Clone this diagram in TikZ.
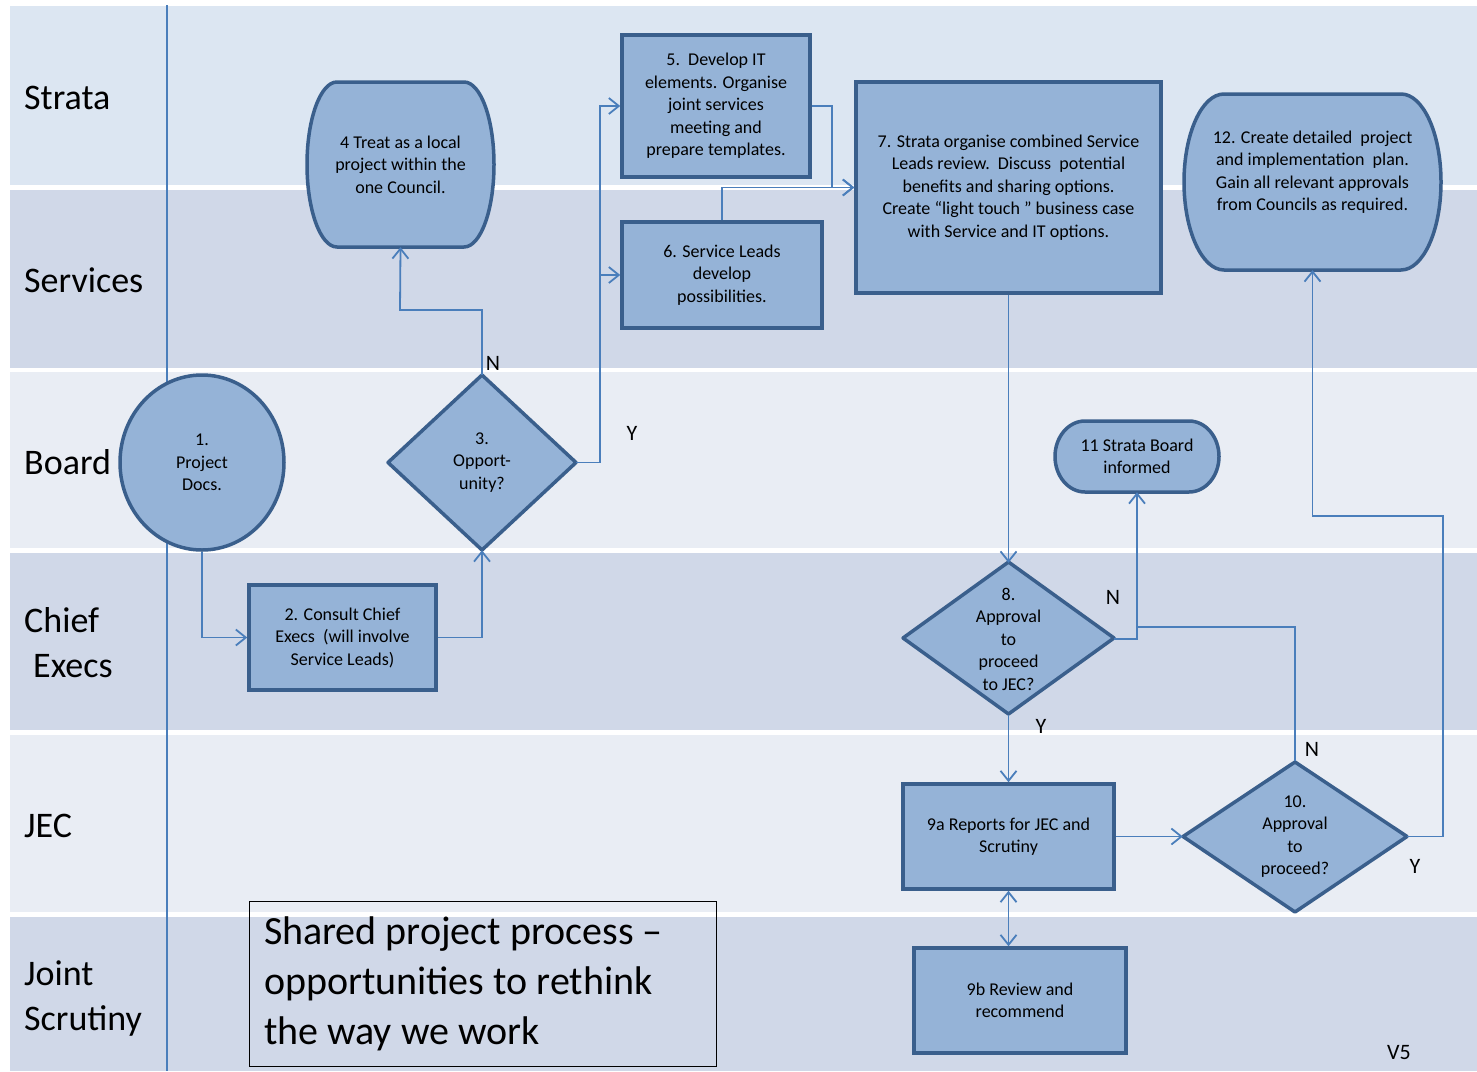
\documentclass[tikz,border=0pt]{standalone}
\usepackage{fontspec}
\setmainfont{Carlito}
\usetikzlibrary{arrows.meta,shapes.geometric}
\definecolor{laneA}{HTML}{DCE6F2}
\definecolor{laneB}{HTML}{D0D8E8}
\definecolor{laneC}{HTML}{E9EDF4}
\definecolor{boxfill}{HTML}{95B3D7}
\definecolor{boxline}{HTML}{3A5F8C}
\definecolor{conncol}{HTML}{4A7EBB}
\newcommand\myNodeFont{\fontsize{18}{22.5}\selectfont}
\newcommand\myLaneFont{\fontsize{36}{45}\selectfont}
\newcommand\myYNFont{\fontsize{22}{26}\selectfont}
\newcommand\myTitleFont{\fontsize{40}{50}\selectfont}
\begin{document}
\begin{tikzpicture}[x=1pt,y=-1pt,
  box/.style={draw=boxline, fill=boxfill, line width=3.5pt, align=center, inner sep=0pt, font=\myNodeFont},
  shapetxt/.style={align=center, inner sep=0pt, font=\myNodeFont},
  shapeline/.style={draw=boxline, fill=boxfill, line width=3.5pt, line join=round},
  conn/.style={draw=conncol, line width=1.8pt, -{Straight Barb[length=10pt,width=16pt,line width=1.8pt]}},
  plainconn/.style={draw=conncol, line width=1.8pt},
  lanelabel/.style={anchor=west, align=left, font=\myLaneFont, inner sep=0pt},
  yn/.style={font=\myYNFont, inner sep=0pt}]
\useasboundingbox (0,0) rectangle (1477,1071);
\fill[white] (0,0) rectangle (1477,1071);
% lanes
\fill[laneA] (10,6) rectangle (1477,185);
\fill[laneB] (10,190) rectangle (1477,368);
\fill[laneC] (10,372) rectangle (1477,548);
\fill[laneB] (10,553) rectangle (1477,730);
\fill[laneC] (10,735) rectangle (1477,912);
\fill[laneB] (10,917) rectangle (1477,1071);
\draw[conncol, line width=1.5pt] (167,5) -- (167,1071);
% lane labels
\node[lanelabel] (lStrata) at (24,98) {Strata};
\node[lanelabel] (lServices) at (24,280) {Services};
\node[lanelabel] (lBoard) at (24,462) {Board};
\node[lanelabel] (lChief) at (24,643) {Chief\\\hspace{9pt}Execs};
\node[lanelabel] (lJEC) at (24,826) {JEC};
\node[lanelabel] (lJoint) at (24,999) {Joint\\Scrutiny};
% title
\node[draw=black, line width=1pt, align=flush left, text width=437pt, inner xsep=15pt, inner ysep=0pt, minimum height=165pt, font=\myTitleFont] (title) at (482.5,983.5) {\raisebox{-4pt}{Shared project process –}\\\raisebox{-4pt}{opportunities to rethink}\\\raisebox{-4pt}{the way we work}};
\node[yn] (ver) at (1399,1053) {V5};
% shapes drawn explicitly
\filldraw[shapeline] (482,375) -- (576,462.5) -- (482,550) -- (388,462.5) -- cycle;
\filldraw[shapeline] (1008.5,562) -- (1114,638) -- (1008.5,714) -- (903,638) -- cycle;
\filldraw[shapeline] (1295,762) -- (1407,836.5) -- (1295,912) -- (1183,836.5) -- cycle;
\filldraw[shapeline] (337,82) -- (464,82) arc[start angle=90,end angle=-90,x radius=30pt,y radius=82.5pt] -- (337,247) arc[start angle=270,end angle=90,x radius=30pt,y radius=82.5pt] -- cycle;
\filldraw[shapeline] (1085,421) -- (1189,421) arc[start angle=90,end angle=-90,x radius=30pt,y radius=35.5pt] -- (1085,492) arc[start angle=270,end angle=90,x radius=30pt,y radius=35.5pt] -- cycle;
\filldraw[shapeline] (1224,94) -- (1401,94) arc[start angle=90,end angle=-90,x radius=40pt,y radius=88pt] -- (1224,270) arc[start angle=270,end angle=90,x radius=40pt,y radius=88pt] -- cycle;
% nodes
\node[box, ellipse, minimum width=164pt, minimum height=175pt] (n1) at (202,462.5) {1.\\Project\\Docs.};
\node[box, minimum width=187pt, minimum height=105pt] (n2) at (342.5,637.5) {2. Consult Chief\\Execs\ \ (will involve\\Service Leads)};
\node[shapetxt, minimum width=188pt, minimum height=175pt] (n3) at (482,462.5) {3.\\Opport-\\unity?};
\node[shapetxt, minimum width=187pt, minimum height=165pt] (n4) at (400.5,164.5) {4 Treat as a local\\project within the\\one Council.};
\node[box, minimum width=188pt, minimum height=142pt] (n5) at (716,106) {5.\ \ Develop IT\\elements. Organise\\joint services\\meeting and\\prepare templates.};
\node[box, minimum width=200pt, minimum height=106pt] (n6) at (722,275) {6. Service Leads\\develop\\possibilities.};
\node[box, minimum width=305pt, minimum height=211pt] (n7) at (1008.5,187.5) {7. Strata organise combined Service\\Leads review.\ \ Discuss\ \ potential\\benefits and sharing options.\\Create “light touch ” business case\\with Service and IT options.};
\node[shapetxt, minimum width=211pt, minimum height=152pt] (n8) at (1008.5,639) {8.\\Approval\\to\\proceed\\to JEC?};
\node[box, minimum width=211pt, minimum height=105pt] (n9a) at (1008.5,836.5) {9a Reports for JEC and\\Scrutiny};
\node[box, minimum width=212pt, minimum height=105pt] (n9b) at (1020,1000.5) {9b Review and\\recommend};
\node[shapetxt, minimum width=224pt, minimum height=151pt] (n10) at (1295,836.5) {10.\\Approval\\to\\proceed?};
\node[shapetxt, minimum width=164pt, minimum height=71pt] (n11) at (1137,456.5) {11 Strata Board\\informed};
\node[shapetxt, minimum width=257pt, minimum height=196pt] (n12) at (1312.5,172) {12. Create detailed\ \ project\\and implementation\ \ plan.\\Gain all relevant approvals\\from Councils as required.};
% junction coordinates
\coordinate (j1) at (400,310);
\coordinate (j2) at (600,275);
\coordinate (j4) at (832,150);
\coordinate (j5) at (1137,627);
\coordinate (j6) at (1443,516);
\coordinate (j7) at (1312.5,516);
% connectors
\draw[conn] (n1.south) |- (n2.west);
\draw[conn] (n2.east) -| (n3.south);
\draw[conn] (n3.north) |- (j1) -- (n4.south);
\draw[conn] (n3.east) -| (j2) |- (n5.west);
\draw[conn] (j2) -- (n6.west);
\draw[conn] (n5.east) -| (j4) |- (n7.west);
\draw[conn] (n6.north) |- (n7.west);
\draw[conn] (n7.south) -- (n8.north);
\draw[conn] (n8.east) -| (n11.south);
\draw[plainconn] (n10.north) |- (j5);
\draw[conn] (n8.south) -- (n9a.north);
\draw[conn] (n9a.east) -- (n10.west);
\draw[conn] (n10.east) -| (j6) -- (j7) -- (n12.south);
\draw[conn, {Straight Barb[length=10pt,width=16pt,line width=1.8pt]}-{Straight Barb[length=10pt,width=16pt,line width=1.8pt]}] (n9a.south) -- (n9a.south |- n9b.north);
% Y/N labels
\node[yn] (yn1) at (493,363) {N};
\node[yn] (yn2) at (632,433) {Y};
\node[yn] (yn3) at (1113,597) {N};
\node[yn] (yn4) at (1041,726) {Y};
\node[yn] (yn5) at (1312,749) {N};
\node[yn] (yn6) at (1415,866) {Y};
\end{tikzpicture}
\end{document}
